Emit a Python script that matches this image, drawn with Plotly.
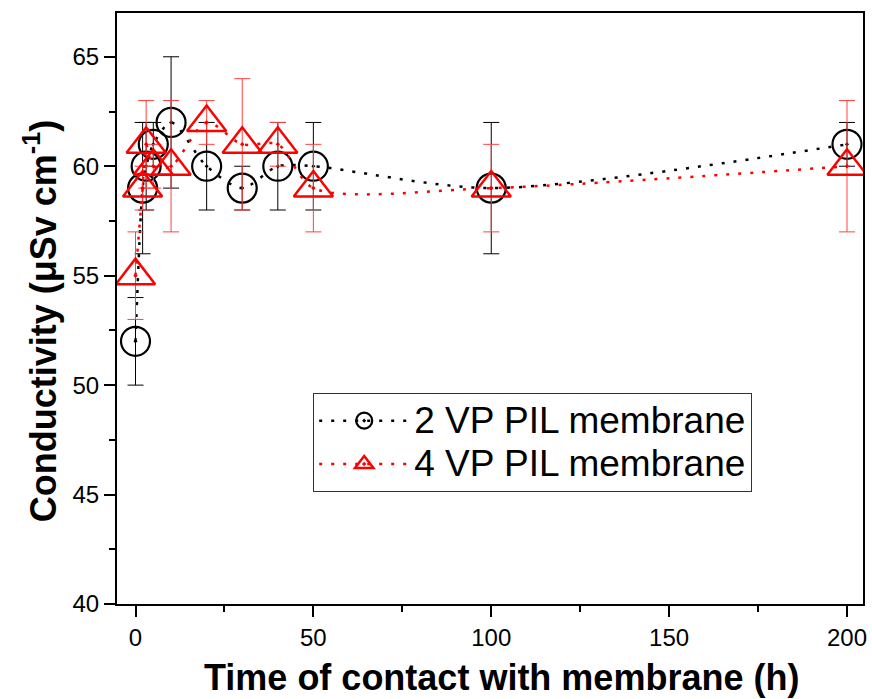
import plotly.graph_objects as go

# Data
time_h = [0, 2, 3, 5, 10, 20, 30, 40, 50, 100, 200]
vp2_cond = [52, 59, 60, 61, 62, 60, 59, 60, 60, 59, 61]
vp2_err = [2, 3, 2, 1, 3, 2, 1, 2, 2, 3, 1]
vp4_cond = [55, 59, 61, 60, 60, 62, 61, 61, 59, 59, 60]
vp4_err = [2, 1, 2, 1, 3, 1, 3, 1, 2, 2, 3]

x_ticks = [0, 50, 100, 150, 200]
y_ticks = [40, 45, 50, 55, 60, 65]

series_names = ["2 VP PIL membrane", "4 VP PIL membrane"]
x_title = "Time of contact with membrane (h)"
y_title = "Conductivity (μSv cm<sup>-1</sup>)"

FONT = "Liberation Sans, Arial, sans-serif"

fig = go.Figure()
fig.add_trace(go.Scatter(
    x=time_h, y=vp2_cond,
    name="<span style='font-size:37px'>" + series_names[0] + "</span>",
    mode="lines+markers",
    line=dict(color="black", width=2.5, dash="3px,9px", shape="spline", smoothing=0.8),
    marker=dict(symbol="circle-open-dot", size=29, color="black", line=dict(width=2.2, color="black")),
    error_y=dict(type="data", array=vp2_err, visible=True, color="black", thickness=1, width=8),
))
fig.add_trace(go.Scatter(
    x=time_h, y=vp4_cond,
    name="<span style='font-size:37px'>" + series_names[1] + "</span>",
    mode="lines+markers",
    line=dict(color="red", width=2.5, dash="3px,9px", shape="spline", smoothing=0.8),
    marker=dict(symbol="triangle-up-open-dot", size=34, color="red", line=dict(width=2.5, color="red")),
    error_y=dict(type="data", array=vp4_err, visible=True, color="#ff4040", thickness=1, width=8),
))

fig.update_layout(
    width=872, height=699,
    margin=dict(l=117, r=5, t=13, b=95),
    paper_bgcolor="white", plot_bgcolor="white",
    font=dict(family=FONT, color="black"),
    showlegend=True,
    legend=dict(
        x=0.263, y=0.357, xanchor="left", yanchor="top",
        bordercolor="#333", borderwidth=1, bgcolor="white",
        font=dict(size=31, family=FONT),
        itemwidth=90, tracegroupgap=0,
    ),
    xaxis=dict(
        range=[-5.2, 204.5], tickvals=x_ticks, ticktext=[str(v) for v in x_ticks],
        ticks="outside", ticklen=11, tickwidth=2, tickcolor="black",
        minor=dict(dtick=25, tick0=0, ticks="outside", ticklen=6, tickwidth=2, tickcolor="black"),
        showline=True, linewidth=2, linecolor="black", mirror=True,
        showgrid=False, zeroline=False,
        tickfont=dict(size=24, family=FONT),
    ),
    yaxis=dict(
        range=[40, 67], tickvals=y_ticks, ticktext=[str(v) for v in y_ticks],
        ticks="outside", ticklen=11, tickwidth=2, tickcolor="black",
        minor=dict(dtick=2.5, tick0=40, ticks="outside", ticklen=6, tickwidth=2, tickcolor="black"),
        showline=True, linewidth=2, linecolor="black", mirror=True,
        showgrid=False, zeroline=False,
        tickfont=dict(size=24, family=FONT),
    ),
    annotations=[
        dict(text="<b>" + x_title + "</b>", xref="paper", yref="paper",
             x=0.516, y=-0.124, xanchor="center", yanchor="middle", showarrow=False,
             font=dict(size=36, family=FONT, color="black")),
        dict(text="<b>" + y_title + "</b>", xref="paper", yref="paper",
             x=-0.1027, y=0.479, xanchor="center", yanchor="middle", showarrow=False,
             textangle=-90, font=dict(size=36, family=FONT, color="black")),
    ],
)

fig.write_html("out.html")
